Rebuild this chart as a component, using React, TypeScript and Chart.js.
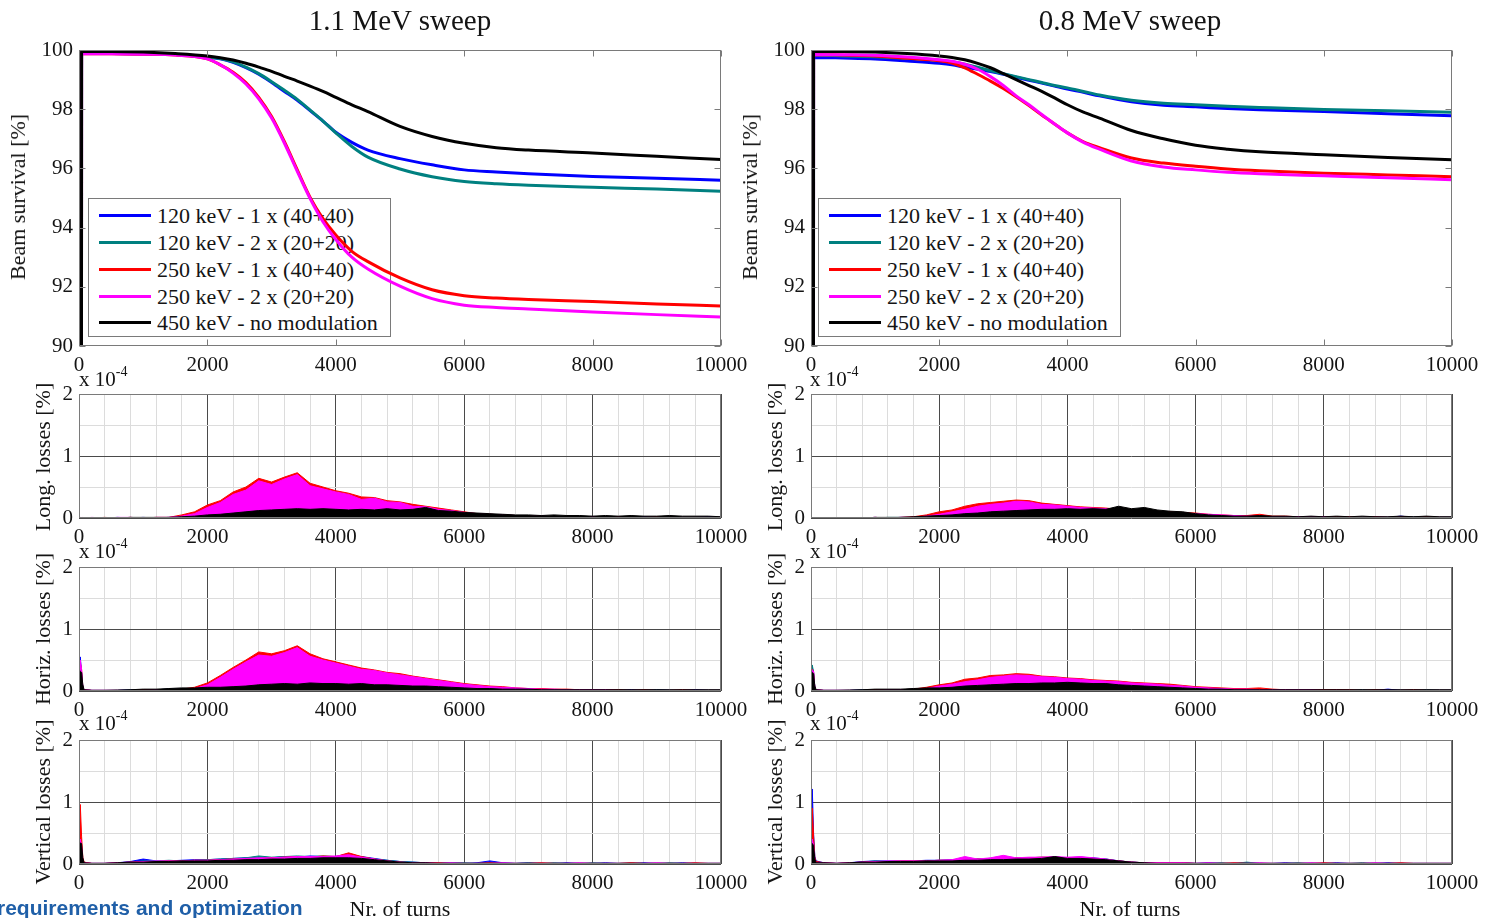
import React, { useEffect, useRef } from 'react';
import { Chart, registerables } from 'chart.js';

Chart.register(...registerables);

const FONT = "'Liberation Serif', 'Times New Roman', serif";
const TXT = '#141414';
const BOX = '#7a7a7a';
const MAJOR = '#4a4a4a';
const MINOR = '#dcdcdc';

// ---------- series meta ----------
const SERIES_LABELS = [
  '120 keV - 1 x (40+40)',
  '120 keV - 2 x (20+20)',
  '250 keV - 1 x (40+40)',
  '250 keV - 2 x (20+20)',
  '450 keV - no modulation',
];
const SERIES_COLORS = ['#0000ff', '#008080', '#ff0000', '#ff00ff', '#000000'];
const SERIES_ORDER = [5, 4, 3, 2, 1];

// ---------- beam survival [%] ----------
const SURV_TURNS = [30, 40, 500, 1000, 1500, 2000, 2200, 2400, 2600, 2800, 3000, 3200, 3400, 3600, 3800, 4000, 4250, 4500, 5000, 5500, 6000, 6500, 7000, 8000, 9000, 10000];

const S11_BLUE = [0, 99.88, 99.88, 99.87, 99.85, 99.76, 99.70, 99.58, 99.40, 99.18, 98.90, 98.60, 98.30, 97.95, 97.60, 97.22, 96.88, 96.62, 96.33, 96.12, 95.95, 95.88, 95.82, 95.73, 95.67, 95.60];
const S11_TEAL = [0, 99.88, 99.88, 99.87, 99.85, 99.76, 99.71, 99.60, 99.42, 99.20, 98.93, 98.64, 98.33, 97.97, 97.60, 97.20, 96.74, 96.38, 95.98, 95.72, 95.56, 95.48, 95.43, 95.36, 95.30, 95.23];
const S11_RED = [0, 99.87, 99.87, 99.86, 99.83, 99.70, 99.50, 99.25, 98.90, 98.40, 97.75, 96.90, 95.95, 95.02, 94.30, 93.75, 93.20, 92.85, 92.30, 91.90, 91.70, 91.62, 91.57, 91.50, 91.42, 91.35];
const S11_MAG = [0, 99.87, 99.87, 99.86, 99.83, 99.70, 99.50, 99.22, 98.85, 98.35, 97.70, 96.85, 95.90, 94.98, 94.20, 93.60, 93.00, 92.60, 92.02, 91.60, 91.38, 91.30, 91.25, 91.15, 91.06, 90.98];
const S11_BLACK = [0, 99.95, 99.95, 99.93, 99.88, 99.80, 99.74, 99.66, 99.55, 99.42, 99.28, 99.11, 98.95, 98.78, 98.60, 98.40, 98.15, 97.92, 97.42, 97.08, 96.85, 96.70, 96.62, 96.52, 96.41, 96.30];

const S08_BLUE = [0, 99.75, 99.73, 99.70, 99.63, 99.55, 99.50, 99.42, 99.35, 99.27, 99.18, 99.08, 98.98, 98.88, 98.78, 98.68, 98.57, 98.45, 98.25, 98.13, 98.08, 98.02, 97.98, 97.92, 97.85, 97.78];
const S08_TEAL = [0, 99.83, 99.80, 99.77, 99.72, 99.65, 99.60, 99.52, 99.42, 99.30, 99.20, 99.10, 99.00, 98.90, 98.80, 98.72, 98.60, 98.48, 98.30, 98.20, 98.15, 98.10, 98.06, 97.99, 97.95, 97.90];
const S08_RED = [0, 99.85, 99.83, 99.80, 99.72, 99.64, 99.56, 99.40, 99.18, 98.95, 98.70, 98.42, 98.12, 97.80, 97.50, 97.20, 96.90, 96.70, 96.35, 96.18, 96.07, 95.98, 95.92, 95.84, 95.78, 95.72];
const S08_MAG = [0, 99.85, 99.84, 99.82, 99.76, 99.67, 99.62, 99.52, 99.35, 99.10, 98.80, 98.45, 98.15, 97.82, 97.50, 97.20, 96.88, 96.65, 96.25, 96.05, 95.95, 95.87, 95.82, 95.75, 95.68, 95.62];
const S08_BLACK = [0, 99.95, 99.95, 99.93, 99.88, 99.80, 99.75, 99.67, 99.55, 99.40, 99.20, 99.00, 98.80, 98.60, 98.38, 98.15, 97.90, 97.70, 97.28, 97.00, 96.78, 96.65, 96.56, 96.46, 96.37, 96.29];

// ---------- losses [% x 1e-4] ----------
const LOSS_TURNS = [0, 20, 40, 60, 80,
  200, 400, 600, 800, 1000, 1200, 1400, 1600, 1800,
  2000, 2200, 2400, 2600, 2800, 3000, 3200, 3400, 3600, 3800,
  4000, 4200, 4400, 4600, 4800, 5000, 5200, 5400, 5600, 5800,
  6000, 6200, 6400, 6600, 6800, 7000, 7200, 7400, 7600, 7800,
  8000, 8200, 8400, 8600, 8800, 9000, 9200, 9400, 9600, 9800,
  10000];

// 1.1 MeV - longitudinal
const LL_BLUE = [0, 0, 0, 0, 0,
  0, 0, 0.01, 0, 0.01, 0, 0.01, 0.01, 0.02,
  0.05, 0.07, 0.11, 0.14, 0.17, 0.19, 0.21, 0.22, 0.19, 0.16,
  0.14, 0.13, 0.11, 0.10, 0.09, 0.08, 0.07, 0.06, 0.05, 0.05,
  0.04, 0.04, 0.03, 0.03, 0.03, 0.02, 0.03, 0.02, 0.02, 0.02,
  0.02, 0.01, 0.02, 0.01, 0.02, 0.01, 0.02, 0.01, 0.01, 0.02,
  0.01];
const LL_TEAL = [0, 0, 0, 0, 0,
  0, 0, 0, 0.01, 0, 0, 0.01, 0.01, 0.03,
  0.06, 0.09, 0.13, 0.16, 0.19, 0.21, 0.24, 0.25, 0.21, 0.18,
  0.16, 0.14, 0.12, 0.11, 0.10, 0.09, 0.08, 0.07, 0.06, 0.05,
  0.04, 0.04, 0.03, 0.03, 0.03, 0.02, 0.02, 0.02, 0.02, 0.02,
  0.02, 0.02, 0.01, 0.02, 0.01, 0.01, 0.02, 0.01, 0.01, 0.01,
  0.01];
const LL_RED = [0, 0, 0, 0, 0,
  0, 0.01, 0, 0.01, 0, 0.01, 0.01, 0.05, 0.10,
  0.21, 0.28, 0.42, 0.50, 0.64, 0.58, 0.66, 0.73, 0.56, 0.50,
  0.44, 0.40, 0.34, 0.33, 0.28, 0.26, 0.22, 0.19, 0.16, 0.13,
  0.10, 0.07, 0.06, 0.05, 0.04, 0.03, 0.03, 0.02, 0.02, 0.02,
  0.02, 0.01, 0.02, 0.01, 0.01, 0.02, 0.01, 0.01, 0.01, 0.01,
  0.01];
const LL_MAG = [0.01, 0.01, 0, 0.01, 0,
  0.01, 0, 0.01, 0.01, 0, 0.01, 0.01, 0.03, 0.07,
  0.17, 0.25, 0.38, 0.45, 0.60, 0.54, 0.63, 0.70, 0.52, 0.47,
  0.42, 0.38, 0.30, 0.32, 0.26, 0.25, 0.19, 0.18, 0.14, 0.12,
  0.09, 0.07, 0.06, 0.05, 0.04, 0.03, 0.03, 0.02, 0.02, 0.02,
  0.02, 0.01, 0.01, 0.01, 0.01, 0.01, 0.01, 0.01, 0.01, 0.01,
  0.01];
const LL_BLACK = [0, 0, 0, 0, 0,
  0, 0, 0, 0.01, 0.01, 0.01, 0.01, 0.02, 0.03,
  0.05, 0.06, 0.08, 0.10, 0.12, 0.13, 0.14, 0.15, 0.14, 0.15,
  0.14, 0.13, 0.14, 0.13, 0.15, 0.13, 0.14, 0.17, 0.12, 0.11,
  0.09, 0.08, 0.07, 0.06, 0.05, 0.05, 0.04, 0.05, 0.04, 0.04,
  0.03, 0.04, 0.03, 0.04, 0.03, 0.03, 0.04, 0.03, 0.03, 0.03,
  0.02];

// 1.1 MeV - horizontal
const LH_BLUE = [0.20, 0.55, 0.30, 0.05, 0.02,
  0.01, 0.01, 0.01, 0.02, 0.02, 0.02, 0.03, 0.03, 0.04,
  0.05, 0.07, 0.11, 0.14, 0.18, 0.20, 0.23, 0.24, 0.20, 0.17,
  0.15, 0.13, 0.12, 0.11, 0.10, 0.09, 0.08, 0.07, 0.06, 0.05,
  0.05, 0.06, 0.07, 0.04, 0.03, 0.03, 0.02, 0.02, 0.02, 0.02,
  0.02, 0.02, 0.01, 0.02, 0.01, 0.02, 0.01, 0.01, 0.02, 0.01,
  0.01];
const LH_TEAL = [0.20, 0.45, 0.30, 0.05, 0.02,
  0.01, 0.01, 0.01, 0.02, 0.02, 0.02, 0.03, 0.03, 0.04,
  0.05, 0.08, 0.12, 0.16, 0.20, 0.22, 0.25, 0.26, 0.22, 0.19,
  0.17, 0.15, 0.13, 0.12, 0.11, 0.10, 0.09, 0.08, 0.07, 0.06,
  0.05, 0.05, 0.04, 0.03, 0.03, 0.02, 0.02, 0.02, 0.02, 0.02,
  0.02, 0.01, 0.02, 0.01, 0.01, 0.02, 0.01, 0.01, 0.01, 0.01,
  0.01];
const LH_RED = [0.20, 0.45, 0.35, 0.05, 0.02,
  0.01, 0.01, 0.01, 0.01, 0.02, 0.02, 0.02, 0.03, 0.06,
  0.13, 0.25, 0.38, 0.50, 0.63, 0.60, 0.65, 0.73, 0.60, 0.52,
  0.47, 0.42, 0.37, 0.34, 0.30, 0.28, 0.24, 0.21, 0.18, 0.15,
  0.12, 0.10, 0.08, 0.07, 0.05, 0.04, 0.04, 0.03, 0.03, 0.02,
  0.02, 0.02, 0.02, 0.01, 0.02, 0.01, 0.01, 0.02, 0.01, 0.01,
  0.01];
const LH_MAG = [0.20, 0.50, 0.35, 0.05, 0.02,
  0.01, 0.01, 0.01, 0.01, 0.01, 0.02, 0.02, 0.03, 0.04,
  0.10, 0.22, 0.35, 0.47, 0.58, 0.56, 0.62, 0.70, 0.56, 0.50,
  0.45, 0.40, 0.35, 0.33, 0.29, 0.26, 0.23, 0.20, 0.17, 0.14,
  0.11, 0.09, 0.07, 0.06, 0.05, 0.04, 0.03, 0.03, 0.02, 0.02,
  0.02, 0.02, 0.01, 0.01, 0.01, 0.01, 0.01, 0.01, 0.01, 0.01,
  0.01];
const LH_BLACK = [0.30, 0.32, 0.30, 0.10, 0.02,
  0.01, 0.01, 0.015, 0.02, 0.03, 0.03, 0.04, 0.05, 0.05,
  0.06, 0.06, 0.07, 0.08, 0.10, 0.11, 0.12, 0.11, 0.13, 0.12,
  0.12, 0.11, 0.12, 0.10, 0.10, 0.09, 0.08, 0.08, 0.07, 0.06,
  0.05, 0.04, 0.04, 0.03, 0.03, 0.03, 0.02, 0.02, 0.02, 0.02,
  0.02, 0.02, 0.02, 0.02, 0.02, 0.02, 0.02, 0.02, 0.02, 0.02,
  0.02];

// 1.1 MeV - vertical
const LV_BLUE = [0.20, 0.30, 0.20, 0.05, 0.02,
  0.01, 0.01, 0.02, 0.04, 0.08, 0.05, 0.05, 0.06, 0.07,
  0.07, 0.08, 0.09, 0.10, 0.09, 0.10, 0.12, 0.11, 0.13, 0.12,
  0.11, 0.14, 0.12, 0.09, 0.06, 0.04, 0.03, 0.02, 0.02, 0.02,
  0.01, 0.02, 0.05, 0.02, 0.01, 0.02, 0.01, 0.01, 0.02, 0.01,
  0.01, 0.02, 0.01, 0.01, 0.02, 0.01, 0.01, 0.02, 0.01, 0.01,
  0.01];
const LV_TEAL = [0.20, 0.30, 0.20, 0.05, 0.02,
  0.01, 0.01, 0.02, 0.03, 0.05, 0.05, 0.06, 0.05, 0.06,
  0.07, 0.08, 0.09, 0.10, 0.13, 0.11, 0.12, 0.13, 0.12, 0.13,
  0.12, 0.16, 0.11, 0.08, 0.06, 0.04, 0.03, 0.02, 0.02, 0.02,
  0.02, 0.01, 0.02, 0.01, 0.01, 0.02, 0.01, 0.02, 0.01, 0.01,
  0.02, 0.01, 0.01, 0.02, 0.01, 0.01, 0.02, 0.01, 0.01, 0.01,
  0.01];
const LV_RED = [0.30, 0.96, 0.45, 0.10, 0.03,
  0.01, 0.01, 0.02, 0.03, 0.04, 0.04, 0.05, 0.05, 0.06,
  0.06, 0.07, 0.08, 0.08, 0.09, 0.10, 0.11, 0.12, 0.11, 0.13,
  0.12, 0.18, 0.12, 0.08, 0.05, 0.03, 0.02, 0.02, 0.02, 0.01,
  0.01, 0.01, 0.02, 0.01, 0.01, 0.01, 0.02, 0.01, 0.01, 0.01,
  0.01, 0.01, 0.01, 0.02, 0.01, 0.01, 0.01, 0.01, 0.02, 0.01,
  0.01];
const LV_MAG = [0.20, 0.40, 0.30, 0.05, 0.02,
  0.01, 0.01, 0.02, 0.03, 0.04, 0.05, 0.05, 0.05, 0.06,
  0.06, 0.07, 0.08, 0.09, 0.10, 0.10, 0.11, 0.12, 0.12, 0.12,
  0.13, 0.15, 0.11, 0.08, 0.05, 0.03, 0.02, 0.02, 0.01, 0.02,
  0.01, 0.01, 0.01, 0.02, 0.01, 0.01, 0.01, 0.01, 0.01, 0.02,
  0.01, 0.01, 0.01, 0.01, 0.01, 0.02, 0.01, 0.01, 0.01, 0.01,
  0.01];
const LV_BLACK = [0.30, 0.34, 0.33, 0.10, 0.02,
  0.01, 0.01, 0.02, 0.03, 0.03, 0.04, 0.04, 0.05, 0.05,
  0.05, 0.06, 0.06, 0.07, 0.07, 0.08, 0.08, 0.09, 0.09, 0.10,
  0.10, 0.10, 0.09, 0.07, 0.05, 0.03, 0.02, 0.02, 0.01, 0.01,
  0.01, 0.01, 0.01, 0.01, 0.01, 0.01, 0.01, 0.01, 0.01, 0.01,
  0.01, 0.01, 0.01, 0.01, 0.01, 0.01, 0.01, 0.01, 0.01, 0.01,
  0.01];

// 0.8 MeV - longitudinal
const RL_BLUE = [0, 0, 0, 0, 0,
  0, 0, 0, 0, 0.01, 0, 0.01, 0.01, 0.01,
  0.02, 0.03, 0.05, 0.06, 0.07, 0.08, 0.09, 0.09, 0.09, 0.08,
  0.08, 0.07, 0.07, 0.06, 0.06, 0.06, 0.05, 0.05, 0.04, 0.04,
  0.03, 0.03, 0.02, 0.02, 0.02, 0.02, 0.02, 0.01, 0.02, 0.01,
  0.02, 0.01, 0.01, 0.01, 0.02, 0.01, 0.03, 0.01, 0.01, 0.01,
  0.01];
const RL_TEAL = [0, 0, 0, 0, 0,
  0, 0, 0, 0, 0, 0.01, 0.01, 0.01, 0.01,
  0.02, 0.03, 0.04, 0.06, 0.07, 0.08, 0.08, 0.09, 0.08, 0.08,
  0.07, 0.07, 0.06, 0.06, 0.06, 0.05, 0.05, 0.04, 0.04, 0.04,
  0.03, 0.03, 0.02, 0.02, 0.02, 0.02, 0.01, 0.02, 0.01, 0.01,
  0.01, 0.02, 0.01, 0.01, 0.01, 0.01, 0.01, 0.02, 0.01, 0.01,
  0.01];
const RL_RED = [0, 0, 0, 0, 0,
  0, 0, 0, 0, 0.01, 0, 0.01, 0.02, 0.05,
  0.10, 0.13, 0.19, 0.23, 0.25, 0.27, 0.29, 0.28, 0.24, 0.22,
  0.20, 0.18, 0.17, 0.16, 0.14, 0.14, 0.12, 0.11, 0.10, 0.09,
  0.08, 0.06, 0.05, 0.04, 0.04, 0.06, 0.03, 0.03, 0.02, 0.02,
  0.02, 0.02, 0.02, 0.01, 0.02, 0.01, 0.02, 0.01, 0.02, 0.01,
  0.01];
const RL_MAG = [0, 0, 0, 0, 0,
  0, 0, 0, 0, 0.01, 0, 0.01, 0.01, 0.03,
  0.06, 0.10, 0.14, 0.19, 0.22, 0.24, 0.27, 0.26, 0.22, 0.21,
  0.19, 0.17, 0.16, 0.15, 0.13, 0.13, 0.11, 0.10, 0.09, 0.08,
  0.07, 0.06, 0.05, 0.04, 0.03, 0.03, 0.02, 0.02, 0.02, 0.02,
  0.02, 0.01, 0.01, 0.01, 0.01, 0.01, 0.01, 0.01, 0.01, 0.01,
  0.01];
const RL_BLACK = [0, 0, 0, 0, 0,
  0, 0, 0, 0, 0.01, 0.01, 0.01, 0.02, 0.03,
  0.04, 0.05, 0.07, 0.08, 0.10, 0.11, 0.12, 0.13, 0.14, 0.14,
  0.15, 0.14, 0.15, 0.14, 0.19, 0.15, 0.17, 0.13, 0.11, 0.10,
  0.07, 0.05, 0.04, 0.03, 0.03, 0.04, 0.03, 0.03, 0.02, 0.03,
  0.02, 0.03, 0.02, 0.03, 0.02, 0.02, 0.03, 0.02, 0.03, 0.02,
  0.02];

// 0.8 MeV - horizontal
const RH_BLUE = [0.20, 0.38, 0.30, 0.05, 0.02,
  0.01, 0.01, 0.01, 0.02, 0.02, 0.02, 0.02, 0.03, 0.03,
  0.04, 0.05, 0.06, 0.07, 0.08, 0.08, 0.09, 0.09, 0.08, 0.08,
  0.07, 0.07, 0.06, 0.06, 0.05, 0.05, 0.04, 0.04, 0.03, 0.03,
  0.03, 0.02, 0.02, 0.02, 0.02, 0.02, 0.01, 0.02, 0.01, 0.01,
  0.01, 0.02, 0.01, 0.01, 0.01, 0.03, 0.01, 0.01, 0.01, 0.01,
  0.01];
const RH_TEAL = [0.20, 0.42, 0.30, 0.05, 0.02,
  0.01, 0.01, 0.01, 0.02, 0.02, 0.02, 0.02, 0.03, 0.03,
  0.04, 0.05, 0.06, 0.07, 0.07, 0.08, 0.09, 0.08, 0.08, 0.07,
  0.07, 0.06, 0.06, 0.05, 0.05, 0.04, 0.04, 0.03, 0.03, 0.03,
  0.02, 0.02, 0.02, 0.02, 0.01, 0.02, 0.01, 0.01, 0.01, 0.02,
  0.01, 0.01, 0.01, 0.02, 0.01, 0.01, 0.01, 0.01, 0.02, 0.01,
  0.01];
const RH_RED = [0.20, 0.35, 0.30, 0.05, 0.02,
  0.01, 0.01, 0.01, 0.01, 0.02, 0.02, 0.02, 0.03, 0.06,
  0.10, 0.13, 0.19, 0.21, 0.25, 0.26, 0.28, 0.27, 0.24, 0.23,
  0.21, 0.20, 0.18, 0.17, 0.16, 0.14, 0.13, 0.12, 0.11, 0.09,
  0.07, 0.06, 0.05, 0.04, 0.04, 0.05, 0.03, 0.02, 0.02, 0.02,
  0.02, 0.02, 0.02, 0.01, 0.02, 0.01, 0.01, 0.02, 0.01, 0.01,
  0.01];
const RH_MAG = [0.20, 0.34, 0.32, 0.05, 0.02,
  0.01, 0.01, 0.01, 0.01, 0.01, 0.02, 0.02, 0.02, 0.04,
  0.08, 0.11, 0.15, 0.18, 0.22, 0.24, 0.26, 0.25, 0.23, 0.22,
  0.20, 0.19, 0.17, 0.16, 0.15, 0.13, 0.12, 0.11, 0.09, 0.08,
  0.06, 0.05, 0.04, 0.03, 0.03, 0.02, 0.02, 0.02, 0.02, 0.02,
  0.01, 0.01, 0.01, 0.01, 0.01, 0.01, 0.01, 0.01, 0.01, 0.01,
  0.01];
const RH_BLACK = [0.28, 0.30, 0.28, 0.08, 0.02,
  0.01, 0.01, 0.015, 0.02, 0.03, 0.03, 0.03, 0.04, 0.05,
  0.05, 0.06, 0.08, 0.09, 0.10, 0.11, 0.12, 0.12, 0.13, 0.13,
  0.14, 0.13, 0.12, 0.12, 0.10, 0.09, 0.08, 0.07, 0.06, 0.05,
  0.04, 0.03, 0.03, 0.02, 0.02, 0.02, 0.02, 0.02, 0.02, 0.02,
  0.02, 0.02, 0.02, 0.02, 0.02, 0.02, 0.02, 0.02, 0.02, 0.02,
  0.02];

// 0.8 MeV - vertical
const RV_BLUE = [0.30, 1.21, 0.50, 0.12, 0.05,
  0.02, 0.01, 0.02, 0.04, 0.05, 0.05, 0.05, 0.05, 0.06,
  0.06, 0.07, 0.07, 0.08, 0.08, 0.09, 0.09, 0.10, 0.10, 0.11,
  0.10, 0.11, 0.10, 0.08, 0.05, 0.03, 0.02, 0.02, 0.02, 0.02,
  0.01, 0.02, 0.01, 0.01, 0.02, 0.01, 0.01, 0.02, 0.01, 0.01,
  0.01, 0.02, 0.01, 0.01, 0.01, 0.02, 0.01, 0.01, 0.01, 0.01,
  0.01];
const RV_TEAL = [0.20, 0.35, 0.25, 0.05, 0.02,
  0.02, 0.01, 0.02, 0.03, 0.05, 0.04, 0.05, 0.05, 0.05,
  0.06, 0.06, 0.07, 0.08, 0.09, 0.09, 0.10, 0.10, 0.11, 0.10,
  0.10, 0.10, 0.09, 0.08, 0.05, 0.03, 0.02, 0.02, 0.02, 0.02,
  0.01, 0.01, 0.02, 0.01, 0.03, 0.01, 0.01, 0.01, 0.02, 0.01,
  0.01, 0.01, 0.01, 0.02, 0.01, 0.01, 0.01, 0.01, 0.01, 0.01,
  0.01];
const RV_RED = [0.30, 0.90, 0.45, 0.10, 0.04,
  0.02, 0.01, 0.02, 0.03, 0.04, 0.04, 0.05, 0.05, 0.05,
  0.06, 0.06, 0.07, 0.08, 0.08, 0.09, 0.10, 0.10, 0.11, 0.11,
  0.10, 0.10, 0.09, 0.07, 0.05, 0.03, 0.02, 0.02, 0.02, 0.02,
  0.01, 0.01, 0.01, 0.02, 0.01, 0.01, 0.01, 0.01, 0.01, 0.01,
  0.02, 0.01, 0.01, 0.01, 0.01, 0.01, 0.02, 0.01, 0.01, 0.01,
  0.01];
const RV_MAG = [0.20, 0.40, 0.30, 0.05, 0.02,
  0.02, 0.01, 0.02, 0.03, 0.04, 0.05, 0.05, 0.05, 0.05,
  0.06, 0.07, 0.12, 0.08, 0.10, 0.14, 0.10, 0.11, 0.11, 0.12,
  0.11, 0.12, 0.10, 0.08, 0.05, 0.03, 0.02, 0.02, 0.02, 0.02,
  0.01, 0.02, 0.01, 0.01, 0.01, 0.02, 0.01, 0.01, 0.01, 0.02,
  0.01, 0.01, 0.01, 0.01, 0.02, 0.01, 0.01, 0.01, 0.01, 0.01,
  0.01];
const RV_BLACK = [0.30, 0.33, 0.30, 0.08, 0.02,
  0.02, 0.01, 0.02, 0.03, 0.03, 0.04, 0.04, 0.04, 0.05,
  0.05, 0.05, 0.06, 0.06, 0.07, 0.07, 0.08, 0.08, 0.09, 0.12,
  0.09, 0.09, 0.08, 0.07, 0.05, 0.03, 0.02, 0.01, 0.01, 0.01,
  0.01, 0.01, 0.01, 0.01, 0.01, 0.01, 0.01, 0.01, 0.01, 0.01,
  0.01, 0.01, 0.01, 0.01, 0.01, 0.01, 0.01, 0.01, 0.01, 0.01,
  0.01];

// ---------- tick labels ----------
const X_MAJOR_STEP = 2000;
const X_MINOR_STEP = 400;
const SURV_Y = { min: 90, max: 100, step: 2 };
const LOSS_Y = { min: 0, max: 2, step: 0.5 };

// ---------- layout ----------
const COLS = [
  { left: 79, width: 642 },
  { left: 811, width: 641 },
];
const ROWS = [
  { top: 50, height: 296, kind: 'surv' },
  { top: 394, height: 124, kind: 'loss' },
  { top: 567, height: 124, kind: 'loss' },
  { top: 740, height: 124, kind: 'loss' },
];
const Y_AXIS_W = 79;
const X_AXIS_H = 34;
const PAD_TOP = 22;
const PAD_RIGHT = 40;

type PanelSpec = {
  key: string;
  col: number;
  row: number;
  turns: number[];
  series: number[][];
};

const PANELS: PanelSpec[] = [
  { key: 's11', col: 0, row: 0, turns: SURV_TURNS, series: [S11_BLUE, S11_TEAL, S11_RED, S11_MAG, S11_BLACK] },
  { key: 'l11', col: 0, row: 1, turns: LOSS_TURNS, series: [LL_BLUE, LL_TEAL, LL_RED, LL_MAG, LL_BLACK] },
  { key: 'h11', col: 0, row: 2, turns: LOSS_TURNS, series: [LH_BLUE, LH_TEAL, LH_RED, LH_MAG, LH_BLACK] },
  { key: 'v11', col: 0, row: 3, turns: LOSS_TURNS, series: [LV_BLUE, LV_TEAL, LV_RED, LV_MAG, LV_BLACK] },
  { key: 's08', col: 1, row: 0, turns: SURV_TURNS, series: [S08_BLUE, S08_TEAL, S08_RED, S08_MAG, S08_BLACK] },
  { key: 'l08', col: 1, row: 1, turns: LOSS_TURNS, series: [RL_BLUE, RL_TEAL, RL_RED, RL_MAG, RL_BLACK] },
  { key: 'h08', col: 1, row: 2, turns: LOSS_TURNS, series: [RH_BLUE, RH_TEAL, RH_RED, RH_MAG, RH_BLACK] },
  { key: 'v08', col: 1, row: 3, turns: LOSS_TURNS, series: [RV_BLUE, RV_TEAL, RV_RED, RV_MAG, RV_BLACK] },
];

const matlabBox = {
  id: 'matlabBox',
  afterDatasetsDraw(chart: any, _args: any, opts: any) {
    const { ctx, chartArea: a, scales } = chart;
    ctx.save();
    ctx.strokeStyle = opts.color || BOX;
    ctx.lineWidth = 1;
    const l = Math.round(a.left) + 0.5;
    const t = Math.round(a.top) + 0.5;
    const r = Math.round(a.right) - 0.5;
    const b = Math.round(a.bottom) - 0.5;
    ctx.strokeRect(l, t, r - l, b - t);
    if (opts.inward) {
      const len = 6;
      ctx.beginPath();
      for (const tk of scales.x.ticks) {
        const px = Math.round(scales.x.getPixelForValue(tk.value)) + 0.5;
        ctx.moveTo(px, b); ctx.lineTo(px, b - len);
        ctx.moveTo(px, t); ctx.lineTo(px, t + len);
      }
      for (const tk of scales.y.ticks) {
        const py = Math.round(scales.y.getPixelForValue(tk.value)) + 0.5;
        ctx.moveTo(l, py); ctx.lineTo(l + len, py);
        ctx.moveTo(r, py); ctx.lineTo(r - len, py);
      }
      ctx.stroke();
    }
    ctx.restore();
  },
};

function buildConfig(spec: PanelSpec): any {
  const isSurv = ROWS[spec.row].kind === 'surv';
  const yr = isSurv ? SURV_Y : LOSS_Y;
  const datasets = spec.series.map((vals, i) => ({
    label: SERIES_LABELS[i],
    data: spec.turns.map((t, j) => ({ x: t, y: vals[j] })),
    borderColor: SERIES_COLORS[i],
    backgroundColor: SERIES_COLORS[i],
    borderWidth: isSurv ? 3 : 1,
    pointRadius: 0,
    pointHoverRadius: 0,
    fill: isSurv ? false : 'origin',
    tension: 0,
    cubicInterpolationMode: isSurv ? 'monotone' : 'default',
    order: SERIES_ORDER[i],
  }));
  const tickFont = { family: FONT, size: 21 };
  return {
    type: 'line',
    data: { datasets },
    plugins: [matlabBox],
    options: {
      animation: false,
      responsive: false,
      maintainAspectRatio: false,
      devicePixelRatio: 1,
      events: [],
      layout: { padding: { left: 0, right: PAD_RIGHT, top: PAD_TOP, bottom: 0 } },
      plugins: {
        legend: { display: false },
        tooltip: { enabled: false },
        matlabBox: { color: BOX, inward: isSurv },
      },
      scales: {
        x: {
          type: 'linear',
          min: 0,
          max: 10000,
          ticks: {
            stepSize: isSurv ? X_MAJOR_STEP : X_MINOR_STEP,
            autoSkip: false,
            maxRotation: 0,
            minRotation: 0,
            padding: 7,
            color: TXT,
            font: tickFont,
            callback: (v: number) => (v % X_MAJOR_STEP === 0 ? String(v) : ''),
          },
          grid: {
            display: !isSurv,
            drawTicks: false,
            lineWidth: 1,
            color: (c: any) => (c.tick && c.tick.value % X_MAJOR_STEP === 0 ? MAJOR : MINOR),
          },
          border: { display: false },
          afterFit: (s: any) => { s.height = X_AXIS_H; },
        },
        y: {
          type: 'linear',
          min: yr.min,
          max: yr.max,
          ticks: {
            stepSize: yr.step,
            autoSkip: false,
            padding: 6,
            color: TXT,
            font: tickFont,
            callback: (v: number) => (Number.isInteger(v) ? String(v) : ''),
          },
          grid: {
            display: !isSurv,
            drawTicks: false,
            lineWidth: 1,
            color: (c: any) => (c.tick && Number.isInteger(c.tick.value) ? MAJOR : MINOR),
          },
          border: { display: false },
          afterFit: (s: any) => { s.width = Y_AXIS_W; },
        },
      },
    },
  };
}

function PanelChart({ spec }: { spec: PanelSpec }) {
  const ref = useRef<HTMLCanvasElement>(null);
  const col = COLS[spec.col];
  const row = ROWS[spec.row];
  const cw = Y_AXIS_W + col.width + PAD_RIGHT;
  const ch = PAD_TOP + row.height + X_AXIS_H;
  useEffect(() => {
    if (!ref.current) return;
    const chart = new Chart(ref.current, buildConfig(spec));
    return () => chart.destroy();
  }, []);
  return (
    <canvas
      ref={ref}
      width={cw}
      height={ch}
      style={{ position: 'absolute', left: col.left - Y_AXIS_W, top: row.top - PAD_TOP, width: cw, height: ch }}
    />
  );
}

function Label({ x, y, text, size = 22, rotate = false, style = {} }: any) {
  return (
    <div
      style={{
        position: 'absolute',
        left: x,
        top: y,
        transform: `translate(-50%, -50%)${rotate ? ' rotate(-90deg)' : ''}`,
        whiteSpace: 'nowrap',
        fontFamily: FONT,
        fontSize: size,
        lineHeight: 1,
        color: TXT,
        ...style,
      }}
    >
      {text}
    </div>
  );
}

function Exponent({ x, y }: { x: number; y: number }) {
  return (
    <div style={{ position: 'absolute', left: x, top: y - 12, fontFamily: FONT, fontSize: 21, lineHeight: 1, color: TXT, whiteSpace: 'nowrap' }}>
      x 10
      <span style={{ fontSize: 14, position: 'relative', top: -10 }}>-4</span>
    </div>
  );
}

function Legend({ left, top }: { left: number; top: number }) {
  return (
    <div
      style={{
        position: 'absolute',
        left,
        top,
        width: 303,
        height: 139,
        border: `1px solid ${BOX}`,
        boxSizing: 'border-box',
      }}
    >
      {SERIES_LABELS.map((lab, i) => (
        <div
          key={lab}
          style={{ position: 'absolute', left: 0, top: 3 + i * 26.85, height: 27, width: 300 }}
        >
          <div style={{ position: 'absolute', left: 10, width: 52, height: 3, background: SERIES_COLORS[i], top: 12 }} />
          <div style={{ position: 'absolute', left: 68, top: 3, fontFamily: FONT, fontSize: 22, lineHeight: 1, color: TXT, whiteSpace: 'nowrap' }}>
            {lab}
          </div>
        </div>
      ))}
    </div>
  );
}

export default function App() {
  return (
    <div style={{ position: 'fixed', left: 0, top: 0, width: 1489, height: 918, background: '#fff', overflow: 'hidden' }}>
      <Legend left={88} top={198} />
      <Legend left={818} top={198} />

      {PANELS.map((p) => (
        <PanelChart key={p.key} spec={p} />
      ))}
      <Label x={400} y={20} text="1.1 MeV sweep" size={29} />
      <Label x={1130} y={20} text="0.8 MeV sweep" size={29} />

      <Label x={18} y={197} text="Beam survival [%]" rotate />
      <Label x={750} y={197} text="Beam survival [%]" rotate />
      <Label x={43} y={457} text="Long. losses [%]" rotate />
      <Label x={775} y={457} text="Long. losses [%]" rotate />
      <Label x={43} y={629} text="Horiz. losses [%]" rotate />
      <Label x={775} y={629} text="Horiz. losses [%]" rotate />
      <Label x={43} y={802} text="Vertical losses [%]" rotate />
      <Label x={775} y={802} text="Vertical losses [%]" rotate />

      <Exponent x={79} y={381} />
      <Exponent x={810} y={381} />
      <Exponent x={79} y={553} />
      <Exponent x={810} y={553} />
      <Exponent x={79} y={725} />
      <Exponent x={810} y={725} />

      <Label x={400} y={909} text="Nr. of turns" />
      <Label x={1130} y={909} text="Nr. of turns" />

      <div
        style={{
          position: 'absolute',
          left: -3,
          top: 897,
          fontFamily: "'Liberation Sans', Arial, sans-serif",
          fontWeight: 'bold',
          fontSize: 21,
          lineHeight: 1,
          color: '#1f5fa8',
          whiteSpace: 'nowrap',
        }}
      >
        requirements and optimization
      </div>
    </div>
  );
}
